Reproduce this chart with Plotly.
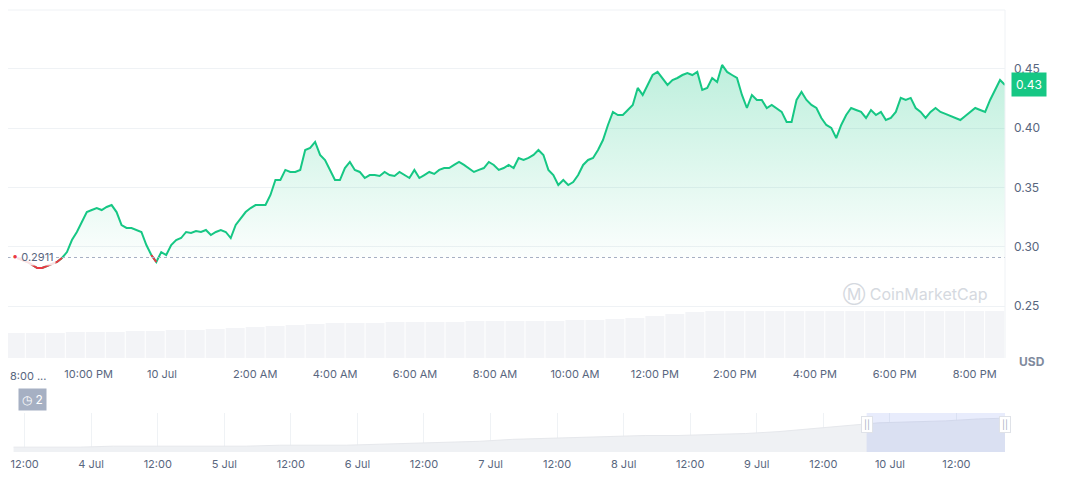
import pandas as pd
import plotly.graph_objects as go

# price, Jul 9 ~8 PM to Jul 10 ~8:45 PM
price = [0.2907, 0.2890, 0.2873, 0.2848, 0.2822, 0.2822, 0.2839, 0.2856, 0.2873, 0.2907,
         0.2957, 0.3058, 0.3126, 0.3210, 0.3294, 0.3311, 0.3328, 0.3311, 0.3337, 0.3353,
         0.3294, 0.3185, 0.3160, 0.3160, 0.3143, 0.3126, 0.3016, 0.2932, 0.2873, 0.2957,
         0.2932, 0.3016, 0.3058, 0.3075, 0.3126, 0.3117, 0.3134, 0.3126, 0.3143, 0.3100,
         0.3126, 0.3143, 0.3126, 0.3075, 0.3185, 0.3244, 0.3294, 0.3328, 0.3353, 0.3353,
         0.3353, 0.3438, 0.3564, 0.3564, 0.3649, 0.3632, 0.3632, 0.3649, 0.3817, 0.3834,
         0.3885, 0.3775, 0.3733, 0.3649, 0.3564, 0.3564, 0.3665, 0.3716, 0.3649, 0.3632,
         0.3581, 0.3606, 0.3606, 0.3598, 0.3632, 0.3606, 0.3598, 0.3632, 0.3606, 0.3581,
         0.3649, 0.3581, 0.3606, 0.3632, 0.3615, 0.3649, 0.3665, 0.3665, 0.3691, 0.3716,
         0.3691, 0.3665, 0.3632, 0.3649, 0.3665, 0.3716, 0.3691, 0.3649, 0.3665, 0.3691,
         0.3665, 0.3750, 0.3733, 0.3750, 0.3775, 0.3817, 0.3775, 0.3649, 0.3606, 0.3522,
         0.3564, 0.3522, 0.3547, 0.3606, 0.3691, 0.3733, 0.3750, 0.3817, 0.3901, 0.4028,
         0.4138, 0.4112, 0.4112, 0.4154, 0.4197, 0.4340, 0.4281, 0.4365, 0.4449, 0.4475,
         0.4424, 0.4365, 0.4407, 0.4424, 0.4449, 0.4466, 0.4449, 0.4475, 0.4323, 0.4340,
         0.4424, 0.4390, 0.4534, 0.4475, 0.4449, 0.4424, 0.4281, 0.4171, 0.4281, 0.4239,
         0.4239, 0.4171, 0.4197, 0.4171, 0.4138, 0.4053, 0.4053, 0.4239, 0.4306, 0.4239,
         0.4197, 0.4171, 0.4087, 0.4028, 0.4003, 0.3918, 0.4028, 0.4112, 0.4171, 0.4154,
         0.4138, 0.4087, 0.4154, 0.4112, 0.4138, 0.4070, 0.4087, 0.4138, 0.4256, 0.4239,
         0.4256, 0.4171, 0.4138, 0.4087, 0.4138, 0.4171, 0.4138, 0.4121, 0.4104, 0.4087,
         0.4070, 0.4104, 0.4138, 0.4171, 0.4154, 0.4138, 0.4239, 0.4323, 0.4407, 0.4365]
times = pd.date_range("2024-07-09 20:03", periods=len(price), freq="447s")
open_price = 0.2911

# volume (bars at the bottom of the main chart), one per 30 min
volume = [25, 25, 25, 26, 26, 26, 27, 27, 28, 28, 29, 30, 31, 32, 33, 34, 35, 35, 35, 36,
          36, 36, 36, 37, 37, 37, 37, 37, 38, 38, 39, 40, 42, 44, 46, 47, 47, 47, 47, 47,
          47, 47, 47, 47, 47, 47, 47, 47, 47, 47]
vol_times = pd.date_range("2024-07-09 20:00", periods=len(volume), freq="30min")

main_ticks = ["2024-07-09 21:50", "2024-07-09 23:40", "2024-07-10 02:00",
              "2024-07-10 04:00", "2024-07-10 06:00", "2024-07-10 08:00", "2024-07-10 10:00",
              "2024-07-10 12:00", "2024-07-10 14:00", "2024-07-10 16:00", "2024-07-10 18:00",
              "2024-07-10 20:00"]
main_labels = ["10:00 PM", "10 Jul", "2:00 AM", "4:00 AM", "6:00 AM", "8:00 AM",
               "10:00 AM", "12:00 PM", "2:00 PM", "4:00 PM", "6:00 PM", "8:00 PM"]

# navigator (overview of 7 days)
nav_values = [5, 5, 5, 6, 6, 6, 6, 6, 7, 7, 7, 8, 9, 10, 11, 13, 14, 15, 16, 17,
              17, 18, 19, 21, 24, 27, 30, 31, 32, 34, 35]
nav_times = pd.date_range("2024-07-03 10:00", periods=len(nav_values), freq="6h")
nav_ticks = ["2024-07-03 12:00", "2024-07-04", "2024-07-04 12:00", "2024-07-05", "2024-07-05 12:00",
             "2024-07-06", "2024-07-06 12:00", "2024-07-07", "2024-07-07 12:00", "2024-07-08",
             "2024-07-08 12:00", "2024-07-09", "2024-07-09 12:00", "2024-07-10", "2024-07-10 12:00"]
nav_labels = ["12:00", "4 Jul", "12:00", "5 Jul", "12:00", "6 Jul", "12:00", "7 Jul", "12:00",
              "8 Jul", "12:00", "9 Jul", "12:00", "10 Jul", "12:00"]

green = "#16c784"
red = "#ea3943"
grey = "#808a9d"

fig = go.Figure()
fig.add_trace(go.Bar(x=vol_times, y=volume, yaxis="y2", marker_color="#f3f4f7",
                     marker_line_width=0, width=30 * 60 * 1000 * 0.95, hoverinfo="skip"))
fig.add_trace(go.Scatter(x=times, y=[open_price] * len(price), mode="lines",
                         line=dict(width=0), hoverinfo="skip"))
fig.add_trace(go.Scatter(x=times, y=price, mode="lines", line=dict(color=green, width=2),
                         fill="tonexty",
                         fillgradient=dict(type="vertical",
                                           colorscale=[[0, "rgba(22,199,132,0.0)"],
                                                       [1, "rgba(22,199,132,0.28)"]])))
below = [p if p < open_price + 0.004 else None for p in price]
fig.add_trace(go.Scatter(x=times, y=below, mode="lines", line=dict(color=red, width=2),
                         connectgaps=False))
fig.add_trace(go.Scatter(x=nav_times, y=nav_values, xaxis="x2", yaxis="y3", mode="lines",
                         line=dict(color="#e6e8ec", width=1), fill="tozeroy",
                         fillcolor="#eff1f4"))

end = times[-1]
fig.update_layout(
    width=1064, height=469, margin=dict(l=0, r=67, t=2, b=25),
    plot_bgcolor="white", paper_bgcolor="white", showlegend=False,
    font=dict(family="Inter, Roboto, sans-serif", size=11, color="#58667e"),
    xaxis=dict(type="date", range=["2024-07-09 19:49", str(end)], tickvals=main_ticks,
               ticktext=main_labels, showgrid=False, anchor="y", ticks="",
               showline=False, tickfont=dict(size=11, color="#58667e"), ticklabelstandoff=8),
    yaxis=dict(domain=[0.2127, 1], range=[0.2064, 0.4997], side="right",
               tickvals=[0.25, 0.30, 0.35, 0.40, 0.45], tickformat=".2f",
               gridcolor="#eff2f5", showline=False, zeroline=False,
               tickfont=dict(size=12, color="#58667e"), ticklabelstandoff=8),
    yaxis2=dict(overlaying="y", range=[0, 348], visible=False),
    xaxis2=dict(type="date", anchor="y3", range=["2024-07-03 09:00", str(end)],
                tickvals=nav_ticks, ticktext=nav_labels, showgrid=True,
                gridcolor="#eff2f5", tickfont=dict(size=11, color="#58667e"),
                ticklabelstandoff=4),
    yaxis3=dict(domain=[0, 0.088], range=[0, 40], visible=False),
)
fig.add_shape(type="line", xref="paper", x0=0, x1=1, yref="y", y0=open_price, y1=open_price,
              line=dict(color="#a6b0c3", width=1, dash="dot"))
fig.add_shape(type="line", xref="paper", x0=0, x1=1, yref="paper", y0=1, y1=1,
              line=dict(color="#eff2f5", width=1))
fig.add_shape(type="line", xref="paper", x0=1, x1=1, yref="paper", y0=0.2127, y1=1,
              line=dict(color="#eff2f5", width=1))
fig.add_shape(type="rect", xref="x2", x0="2024-07-09 19:49", x1=str(end), yref="paper",
              y0=0, y1=0.088, fillcolor="rgba(98,126,234,0.15)", line_width=0)
for hx in ["2024-07-09 19:49", str(end)]:
    fig.add_annotation(x=hx, xref="x2", y=0.044, yref="paper", text="||", showarrow=False,
                       bgcolor="white", bordercolor="#dfe2e8", borderpad=2,
                       font=dict(size=9, color="#a6b0c3"))
fig.add_annotation(x=end, y=price[-1], xref="x", yref="y", xanchor="left", xshift=6,
                   text="0.43", showarrow=False, bgcolor=green, borderpad=4,
                   font=dict(color="white", size=12))
fig.add_annotation(x=0, xref="paper", y=open_price, yref="y", xanchor="left", xshift=2,
                   text="<span style='color:#ea3943'>•</span> 0.2911", showarrow=False,
                   bgcolor="rgba(255,255,255,0.85)", font=dict(size=11, color="#58667e"))
fig.add_annotation(x=0, xref="paper", y=0.2127, yref="paper", xanchor="left", yanchor="top",
                   yshift=-9, text="8:00 ...", showarrow=False,
                   font=dict(size=11, color="#58667e"))
fig.add_annotation(x=1, xref="paper", y=0.2127, yref="paper", xanchor="left", yanchor="top",
                   xshift=12, yshift=6, text="<b>USD</b>", showarrow=False,
                   font=dict(size=12, color=grey))
fig.add_annotation(x=0.985, xref="paper", y=0.26, yref="y", xanchor="right", text="Ⓜ CoinMarketCap",
                   showarrow=False, font=dict(size=16, color="#d5d9e0"))
fig.add_annotation(x=0.01, xref="paper", y=0.2127, yref="paper", xanchor="left", yanchor="top",
                   yshift=-30, text="◷ 2", showarrow=False, bgcolor="#a6b0c3", borderpad=3,
                   font=dict(size=12, color="white"))

fig.write_html("out.html")
